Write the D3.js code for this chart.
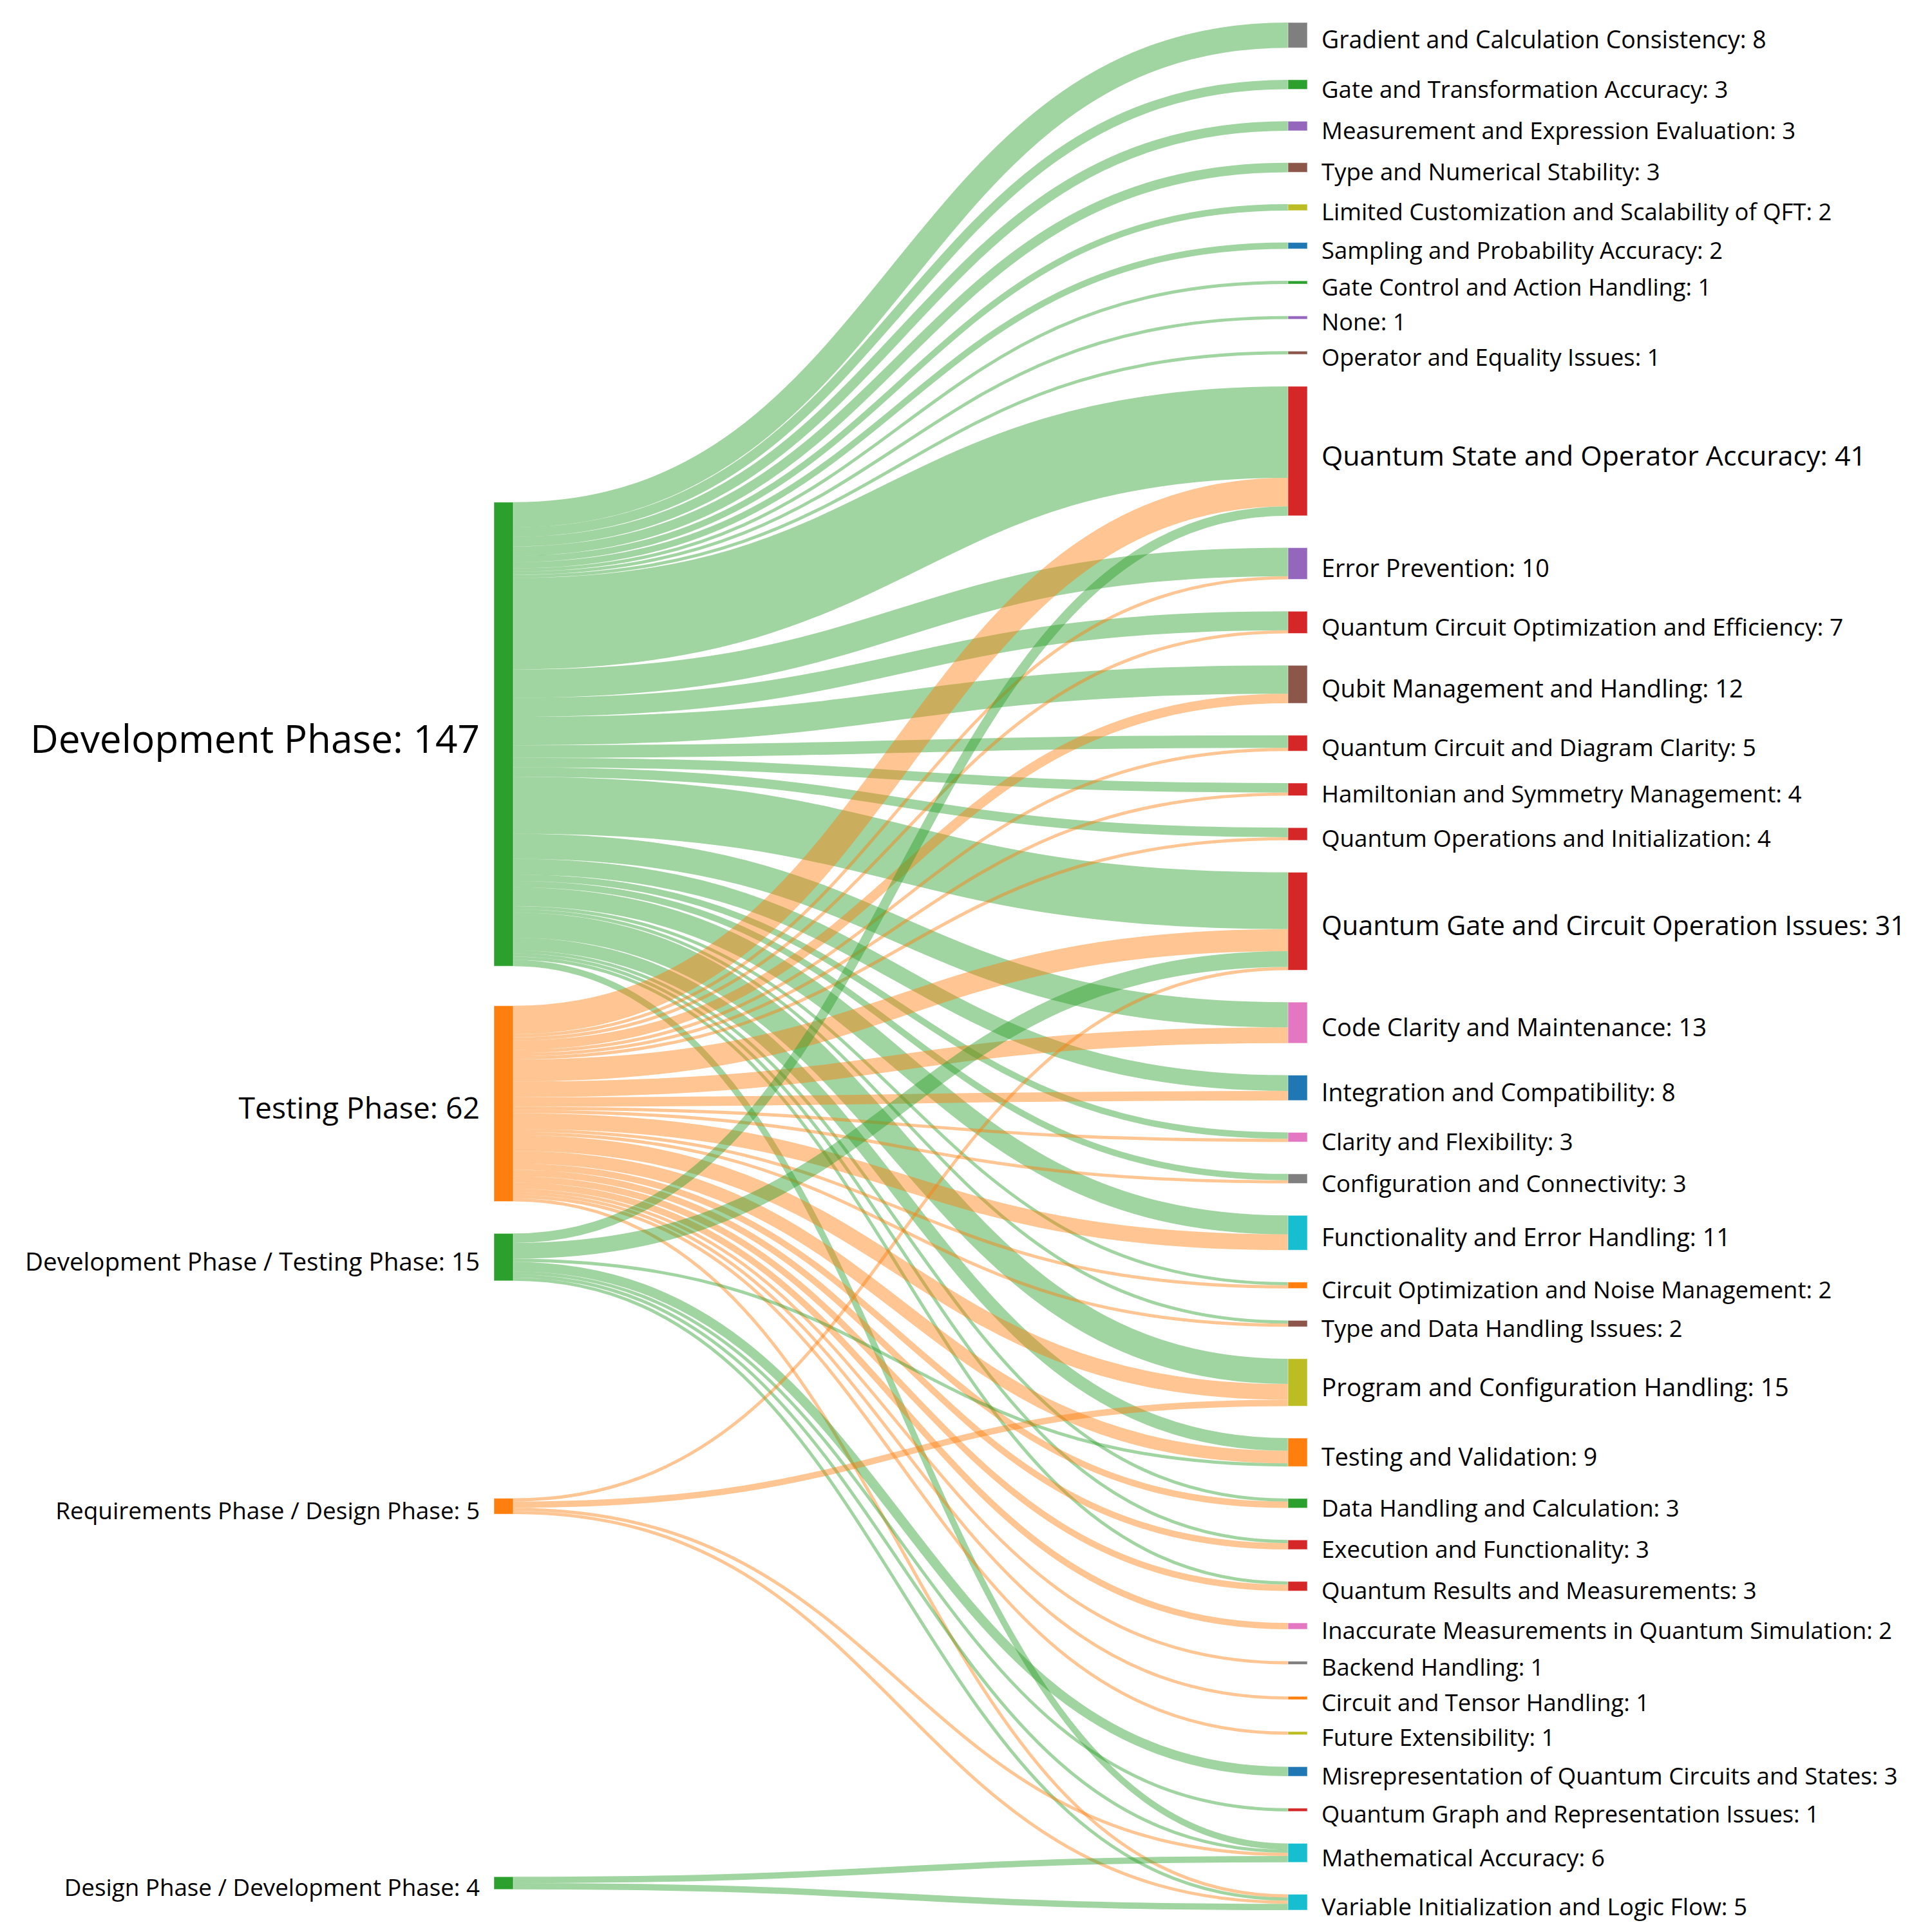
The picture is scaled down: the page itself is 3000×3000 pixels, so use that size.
<!DOCTYPE html>
<html><head><meta charset="utf-8">
<script src="https://cdn.jsdelivr.net/npm/d3@7"></script>
<style>
body{margin:0;background:#fff}
svg{display:block}
text{font-family:"Open Sans","Noto Sans",sans-serif;fill:#000}
</style>
</head><body>
<svg id="chart" width="3000" height="3000"></svg>
<script>
// ---------------- DATA ----------------
const sourceNames = [
  "Development Phase",
  "Testing Phase",
  "Development Phase / Testing Phase",
  "Requirements Phase / Design Phase",
  "Design Phase / Development Phase"
];
const targetNames = [
  "Gradient and Calculation Consistency",
  "Gate and Transformation Accuracy",
  "Measurement and Expression Evaluation",
  "Type and Numerical Stability",
  "Limited Customization and Scalability of QFT",
  "Sampling and Probability Accuracy",
  "Gate Control and Action Handling",
  "None",
  "Operator and Equality Issues",
  "Quantum State and Operator Accuracy",
  "Error Prevention",
  "Quantum Circuit Optimization and Efficiency",
  "Qubit Management and Handling",
  "Quantum Circuit and Diagram Clarity",
  "Hamiltonian and Symmetry Management",
  "Quantum Operations and Initialization",
  "Quantum Gate and Circuit Operation Issues",
  "Code Clarity and Maintenance",
  "Integration and Compatibility",
  "Clarity and Flexibility",
  "Configuration and Connectivity",
  "Functionality and Error Handling",
  "Circuit Optimization and Noise Management",
  "Type and Data Handling Issues",
  "Program and Configuration Handling",
  "Testing and Validation",
  "Data Handling and Calculation",
  "Execution and Functionality",
  "Quantum Results and Measurements",
  "Inaccurate Measurements in Quantum Simulation",
  "Backend Handling",
  "Circuit and Tensor Handling",
  "Future Extensibility",
  "Misrepresentation of Quantum Circuits and States",
  "Quantum Graph and Representation Issues",
  "Mathematical Accuracy",
  "Variable Initialization and Logic Flow"
];
// flow values from each source to each target (same order as targetNames)
const developmentFlows     = [8,3,3,3,2,2,1,1,1, 29,9,6,9,4,3,3, 18, 8,5,2,2,6, 1,1, 8,4, 1,1,1, 0,0,0,0, 0,0, 2,0];
const testingFlows         = [0,0,0,0,0,0,0,0,0,  9,1,1,3,1,1,1,  7, 5,3,1,1,5, 1,1, 5,4, 2,2,2, 2,1,1,1, 0,0, 0,1];
const devTestingFlows      = [0,0,0,0,0,0,0,0,0,  3,0,0,0,0,0,0,  5, 0,0,0,0,0, 0,0, 0,1, 0,0,0, 0,0,0,0, 3,1, 1,1];
const requirementsDesignFlows = [0,0,0,0,0,0,0,0,0, 0,0,0,0,0,0,0, 1, 0,0,0,0,0, 0,0, 2,0, 0,0,0, 0,0,0,0, 0,0, 1,1];
const designDevFlows       = [0,0,0,0,0,0,0,0,0,  0,0,0,0,0,0,0,  0, 0,0,0,0,0, 0,0, 0,0, 0,0,0, 0,0,0,0, 0,0, 2,2];

// ---------------- STYLE ----------------
const sourceColors = ["#2ca02c","#ff7f0e","#2ca02c","#ff7f0e","#2ca02c"];
const targetColors = [
  "#7f7f7f","#2ca02c","#9467bd","#8c564b","#bcbd22","#1f77b4","#2ca02c","#9467bd","#8c564b",
  "#d62728","#9467bd","#d62728","#8c564b","#d62728","#d62728","#d62728","#d62728",
  "#e377c2","#1f77b4","#e377c2","#7f7f7f","#17becf","#ff7f0e","#8c564b","#bcbd22","#ff7f0e",
  "#2ca02c","#d62728","#d62728","#e377c2","#7f7f7f","#ff7f0e","#bcbd22","#1f77b4","#d62728",
  "#17becf","#17becf"
];
const linkOpacity = 0.45;
const layout = {left: 767, right: 2030, top: 35, bottom: 2966, nodeWidth: 30, nodePadding: 49.7};

// ---------------- GRAPH ----------------
const flowRows = [developmentFlows, testingFlows, devTestingFlows, requirementsDesignFlows, designDevFlows];
const sources = sourceNames.map((name, i) => ({name, color: sourceColors[i], index: i,
  value: d3.sum(flowRows[i]), links: []}));
const targets = targetNames.map((name, j) => ({name, color: targetColors[j], index: j,
  value: d3.sum(flowRows, r => r[j]), links: []}));
const links = [];
flowRows.forEach((row, i) => row.forEach((v, j) => {
  if (v > 0) {
    const l = {source: sources[i], target: targets[j], value: v};
    links.push(l); sources[i].links.push(l); targets[j].links.push(l);
  }
}));

const total = d3.sum(targets, d => d.value);
const ky = (layout.bottom - layout.top - (targets.length - 1) * layout.nodePadding) / total;
const h = d3.scaleLinear().domain([0, 1]).range([0, ky]);

// target column: packed in order
let yCursor = layout.top;
targets.forEach(t => {
  t.x1 = layout.right; t.x0 = layout.right - layout.nodeWidth;
  t.y0 = yCursor; t.y1 = yCursor + h(t.value);
  yCursor = t.y1 + layout.nodePadding;
  let off = t.y0;
  t.links.sort((a, b) => a.source.index - b.source.index).forEach(l => {
    l.width = h(l.value); l.y1 = off + l.width / 2; off += l.width;
  });
});

// source column: value-weighted centre of its links, then collision resolution
sources.forEach(s => {
  s.x0 = layout.left; s.x1 = layout.left + layout.nodeWidth;
  s.desired = d3.sum(s.links, l => l.value * l.y1) / s.value;
  s.height = h(s.value);
});
// pool adjacent blocks that overlap (keeps value-weighted centre)
let blocks = [];
const place = blk => {
  let off = 0, num = 0, W = 0;
  blk.offsets = blk.nodes.map(n => { const o = off + n.height / 2; off += n.height + layout.nodePadding; return o; });
  blk.span = off - layout.nodePadding;
  blk.nodes.forEach((n, k) => { num += n.value * (n.desired - blk.offsets[k]); W += n.value; });
  blk.top = num / W;
};
sources.slice().sort((a, b) => a.desired - b.desired).forEach(s => {
  const b = {nodes: [s]};
  place(b);
  blocks.push(b);
  while (blocks.length > 1) {
    const prev = blocks[blocks.length - 2], cur = blocks[blocks.length - 1];
    if (prev.top + prev.span + layout.nodePadding > cur.top) {
      const m = {nodes: prev.nodes.concat(cur.nodes)};
      place(m);
      blocks.splice(blocks.length - 2, 2, m);
    } else break;
  }
});
blocks.forEach(blk => {
  blk.top = Math.max(layout.top, Math.min(layout.bottom - blk.span, blk.top));
  blk.nodes.forEach((n, k) => { n.y0 = blk.top + blk.offsets[k] - n.height / 2; n.y1 = n.y0 + n.height; });
});
sources.forEach(s => {
  let off = s.y0;
  s.links.sort((a, b) => a.target.index - b.target.index).forEach(l => { l.y0 = off + l.width / 2; off += l.width; });
});

// ---------------- DRAW ----------------
const svg = d3.select("#chart");
svg.append("rect").attr("width", 3000).attr("height", 3000).attr("fill", "#fff");

const linkPath = d3.linkHorizontal()
  .source(d => [d.source.x1, d.y0])
  .target(d => [d.target.x0, d.y1]);

svg.append("g").attr("fill", "none")
  .selectAll("path").data(links).join("path")
  .attr("d", linkPath)
  .attr("stroke", d => d.source.color)
  .attr("stroke-opacity", linkOpacity)
  .attr("stroke-width", d => Math.max(1, d.width));

const allNodes = sources.concat(targets);
svg.append("g").selectAll("rect").data(allNodes).join("rect")
  .attr("x", d => d.x0).attr("y", d => d.y0)
  .attr("width", d => d.x1 - d.x0).attr("height", d => Math.max(1, d.y1 - d.y0))
  .attr("fill", d => d.color)
  .attr("stroke", "#fff").attr("stroke-opacity", 0.5).attr("stroke-width", 1);

const fontSize = d3.scaleLinear().domain([0, 100]).range([36.1, 52.56]);
const labelGap = 22, labelShift = 7.5;
const labels = svg.append("g");
labels.selectAll("text.src").data(sources).join("text").attr("class", "src")
  .attr("x", d => d.x0 - labelGap)
  .attr("y", d => (d.y0 + d.y1) / 2 + labelShift)
  .attr("dy", "0.35em")
  .attr("text-anchor", "end")
  .style("font-size", d => fontSize(d.value) + "px")
  .text(d => `${d.name}: ${d.value}`);
labels.selectAll("text.tgt").data(targets).join("text").attr("class", "tgt")
  .attr("x", d => d.x1 + labelGap)
  .attr("y", d => (d.y0 + d.y1) / 2 + labelShift)
  .attr("dy", "0.35em")
  .attr("text-anchor", "start")
  .style("font-size", d => fontSize(d.value) + "px")
  .text(d => `${d.name}: ${d.value}`);
</script>
</body></html>
